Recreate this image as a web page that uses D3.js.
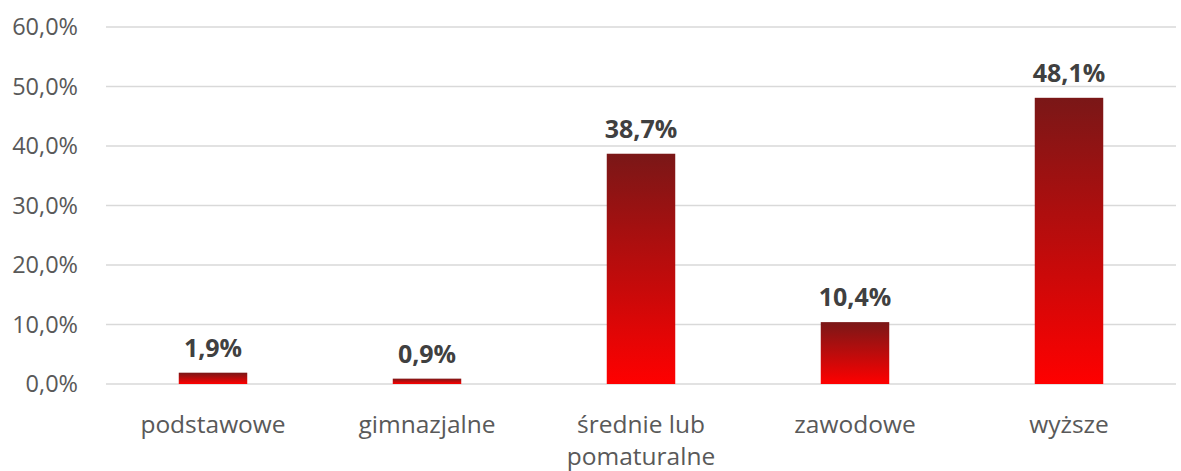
<!DOCTYPE html>
<html><head><meta charset="utf-8">
<script src="https://cdn.jsdelivr.net/npm/d3@7"></script>
<style>body{margin:0;background:#fff}svg{display:block}</style>
</head><body>
<svg id="c" width="1181" height="471"></svg>
<script>
const categories = [["podstawowe"],["gimnazjalne"],["średnie lub","pomaturalne"],["zawodowe"],["wyższe"]];
const values = [1.9, 0.9, 38.7, 10.4, 48.1];
const yTicks = [0,10,20,30,40,50,60];

const svg = d3.select("#c");
const font = "'Open Sans', 'Noto Sans', sans-serif";
const x = d3.scaleBand().domain(d3.range(categories.length)).range([106,1176]).paddingInner(0.68).paddingOuter(0.34);
const y = d3.scaleLinear().domain([0,60]).range([384,27]);

const defs = svg.append("defs");
const g = defs.append("linearGradient").attr("id","grad").attr("x1",0).attr("y1",0).attr("x2",0).attr("y2",1);
g.append("stop").attr("offset","0%").attr("stop-color","#7a1717");
g.append("stop").attr("offset","50%").attr("stop-color","#bb0c0c");
g.append("stop").attr("offset","100%").attr("stop-color","#ff0000");

svg.append("g").selectAll("line").data(yTicks).join("line")
  .attr("x1",106).attr("x2",1176).attr("y1",d=>y(d)).attr("y2",d=>y(d))
  .attr("stroke","#d9d9d9").attr("stroke-width",1.5);

svg.append("g").selectAll("text").data(yTicks).join("text")
  .attr("x",78).attr("y",d=>y(d)).attr("dy","0.35em").attr("text-anchor","end")
  .attr("font-family",font).attr("font-size",23.5).attr("fill","#595959")
  .text(d=>d.toFixed(1).replace(".",",")+"%");

svg.append("g").selectAll("rect").data(values).join("rect")
  .attr("x",(d,i)=>x(i)).attr("width",x.bandwidth())
  .attr("y",d=>y(d)).attr("height",d=>y(0)-y(d)).attr("fill","url(#grad)");

svg.append("g").selectAll("text").data(values).join("text")
  .attr("x",(d,i)=>x(i)+x.bandwidth()/2).attr("y",d=>y(d)-16).attr("text-anchor","middle")
  .attr("font-family",font).attr("font-size",25).attr("font-weight","bold").attr("fill","#404040")
  .text(d=>d.toFixed(1).replace(".",",")+"%");

const cl = svg.append("g").selectAll("text").data(categories).join("text")
  .attr("x",(d,i)=>x(i)+x.bandwidth()/2).attr("y",433).attr("text-anchor","middle")
  .attr("font-family",font).attr("font-size",24.5).attr("fill","#595959");
cl.selectAll("tspan").data(d=>d).join("tspan")
  .attr("x",function(){return this.parentNode.getAttribute("x");})
  .attr("dy",(d,i)=>i===0?0:32).text(d=>d);
</script>
</body></html>
